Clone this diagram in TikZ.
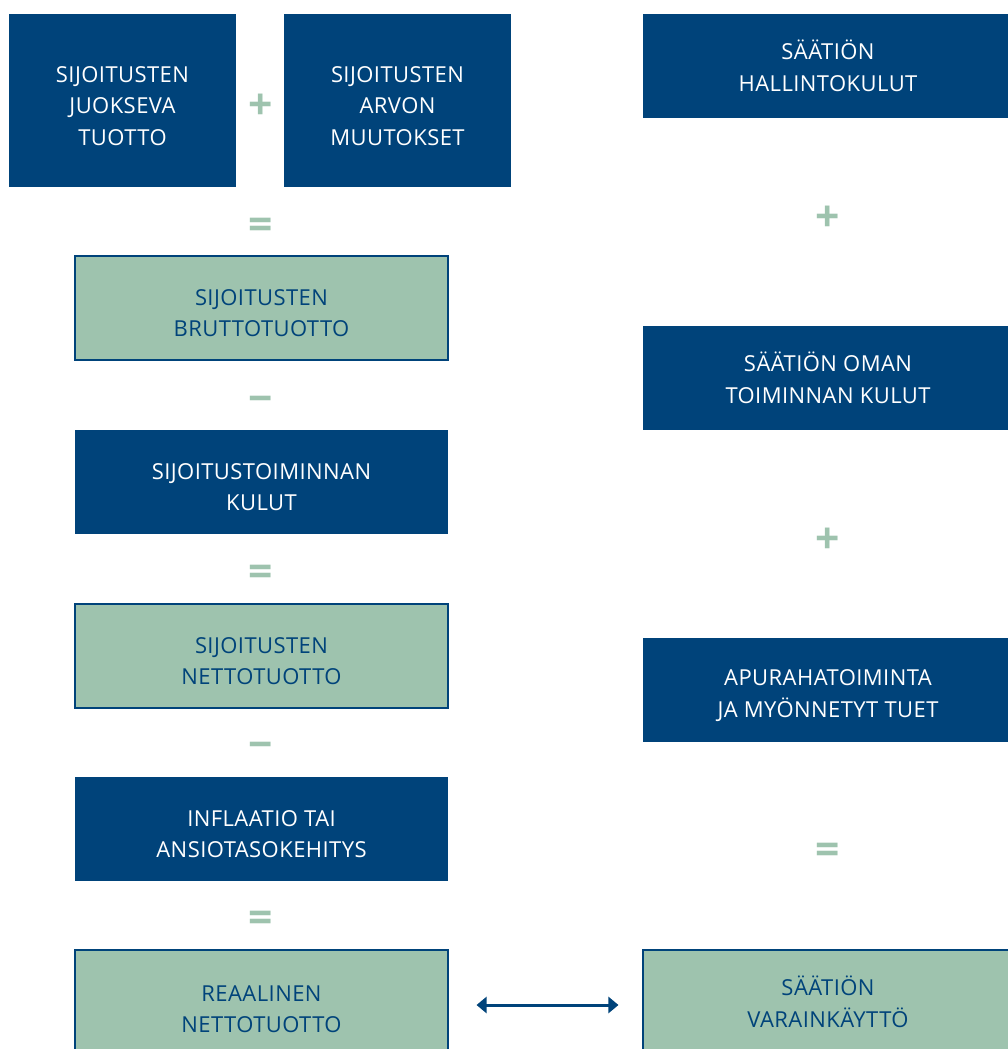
\documentclass[tikz,border=0pt]{standalone}
\usepackage{fontspec}
\setmainfont[LetterSpace=2]{Open Sans}
\newfontfamily\signos{Open Sans}
\usepackage{tikz}
\usetikzlibrary{arrows.meta}
\definecolor{B}{RGB}{0, 67, 122}
\definecolor{G}{RGB}{158, 195, 174}
\newcommand{\alto}{\rule{0pt}{20pt}}

\begin{document}
\begin{tikzpicture}[x=0.75pt, y=-0.75pt,
	caja/.style={inner sep=0pt, align=center, font=\fontsize{16.5}{23.6}\selectfont},
	oscura/.style={caja, fill=B, text=white},
	clara/.style={caja, fill=G, draw=B, line width=0.8pt, text=B},
	ancha/.style={minimum width=279.75pt, minimum height=78pt},
	signo/.style={inner sep=0pt, text height=25pt, text depth=0pt, text=G,
		font=\signos\bfseries\fontsize{32}{32}\selectfont},
	flecha/.style={B, line width=2.25pt, {Triangle[length=7.5pt,width=12pt]}-{Triangle[length=7.5pt,width=12pt]}}]
	% Marco
	\useasboundingbox (0,0) rectangle (1007,1049);

	% Columna izquierda
	\node[oscura, minimum width=170.25pt, minimum height=129.75pt] (juoksu) at (122.5,100.5) {\alto SIJOITUSTEN\\JUOKSEVA\\TUOTTO};
	\node[oscura, minimum width=170.25pt, minimum height=129.75pt] (arvo) at (397.5,100.5) {\alto SIJOITUSTEN\\ARVON\\MUUTOKSET};
	\node[clara, ancha] (brutto) at (261.5,308) {\alto SIJOITUSTEN\\BRUTTOTUOTTO};
	\node[oscura, ancha] (kulut) at (261.5,482) {\alto SIJOITUSTOIMINNAN\\KULUT};
	\node[clara, ancha] (netto) at (261.5,656) {\alto SIJOITUSTEN\\NETTOTUOTTO};
	\node[oscura, ancha] (inflaatio) at (261.5,829) {\alto INFLAATIO TAI\\ANSIOTASOKEHITYS};
	\node[clara, ancha, minimum height=80.25pt] (reaali) at (261.5,1003.5) {\alto REAALINEN\\NETTOTUOTTO};

	% Columna derecha
	\node[oscura, minimum width=277.5pt, minimum height=78pt] (hallinto) at (828,66) {SÄÄTIÖN\\HALLINTOKULUT};
	\node[oscura, minimum width=277.5pt, minimum height=78pt] (oma) at (828,378) {SÄÄTIÖN OMAN\\TOIMINNAN KULUT};
	\node[oscura, minimum width=277.5pt, minimum height=78pt] (apuraha) at (828,690) {\alto APURAHATOIMINTA\\JA MYÖNNETYT TUET};
	\node[clara, minimum width=277.5pt, minimum height=78pt] (varat) at (828,1002) {SÄÄTIÖN\\VARAINKÄYTTÖ};

	% Signos
	\node[signo] (s1) at (261,103) {+};
	\node[signo] (s2) at (261,223) {=};
	\node[signo] (s3) at (261,397) {−};
	\node[signo] (s4) at (261,570) {=};
	\node[signo] (s5) at (261,743) {−};
	\node[signo] (s6) at (261,916) {=};
	\node[signo] (s7) at (828,215) {+};
	\node[signo] (s8) at (828,537) {+};
	\node[signo] (s9) at (828,848) {=};

	% Flecha doble
	\coordinate (fl) at (261.5,1005);
	\draw[flecha, shorten <=21pt, shorten >=18pt] (reaali.east |- fl) -- (varat.west |- fl);
\end{tikzpicture}
\end{document}
